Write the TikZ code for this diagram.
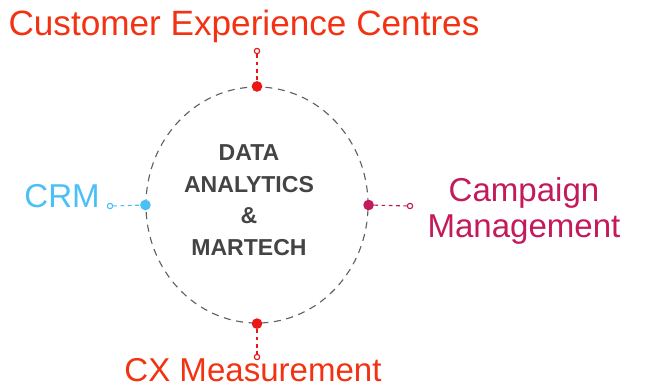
\documentclass[tikz,border=0pt]{standalone}
\usepackage{fontspec}
\setmainfont{Liberation Sans}
\usetikzlibrary{shapes.geometric}
\definecolor{cxred}{RGB}{242,50,18}
\definecolor{dotred}{RGB}{236,22,22}
\definecolor{crmblue}{RGB}{75,192,246}
\definecolor{campaign}{RGB}{194,26,90}
\definecolor{coregray}{RGB}{68,68,68}
\tikzset{
  label text/.style={font=\fontsize{23.5}{28}\selectfont, inner sep=0pt},
  dot/.style={circle, inner sep=0pt, minimum size=7.6pt},
  tip/.style={circle, draw, inner sep=0pt, minimum size=3.8pt, line width=0.8pt, fill=white},
  link/.style={line width=0.8pt, dash pattern=on 2.6pt off 2.6pt}
}

\begin{document}
\begin{tikzpicture}[x=0.025cm,y=-0.025cm]
  \useasboundingbox (0,0) rectangle (656,390);
  \node[draw=coregray!85, ellipse, line width=0.8pt, dash pattern=on 5pt off 4pt,
        minimum width=5.55cm, minimum height=5.9cm, inner sep=0pt] (hub) at (257,205) {};
  \node[align=center, font=\fontsize{16.4}{22.5}\selectfont\bfseries, text=coregray] (core) at (249,200)
        {DATA\\ANALYTICS\\\&\\MARTECH};

  % top
  \node[label text, text=cxred, anchor=base, font=\fontsize{25}{28}\selectfont] (cec) at (244,35.5) {Customer Experience Centres};
  \node[tip, draw=dotred] (cecend) at (257,51) {};
  \node[dot, fill=dotred] (cecdot) at (hub.north) {};
  \draw[link, dotred] (cecend) -- (cecdot);

  % left
  \node[label text, text=crmblue, anchor=base east] (crm) at (100,207) {CRM};
  \node[tip, draw=crmblue] (crmend) at (110,206) {};
  \node[dot, fill=crmblue] (crmdot) at (hub.west) {};
  \draw[link, crmblue] (crmend) -- (crmdot);

  % right
  \node[label text, text=campaign, anchor=base, align=center, font=\fontsize{23.5}{25}\selectfont] (camp) at (524,237) {Campaign\\Management};
  \node[tip, draw=campaign] (campend) at (410,206) {};
  \node[dot, fill=campaign] (campdot) at (hub.east) {};
  \draw[link, campaign] (campdot) -- (campend);

  % bottom
  \node[label text, text=cxred, anchor=base] (cxm) at (253,381) {CX Measurement};
  \node[tip, draw=dotred] (cxmend) at (257,357) {};
  \node[dot, fill=dotred] (cxmdot) at (hub.south) {};
  \draw[link, dotred] (cxmdot) -- (cxmend);
\end{tikzpicture}
\end{document}
